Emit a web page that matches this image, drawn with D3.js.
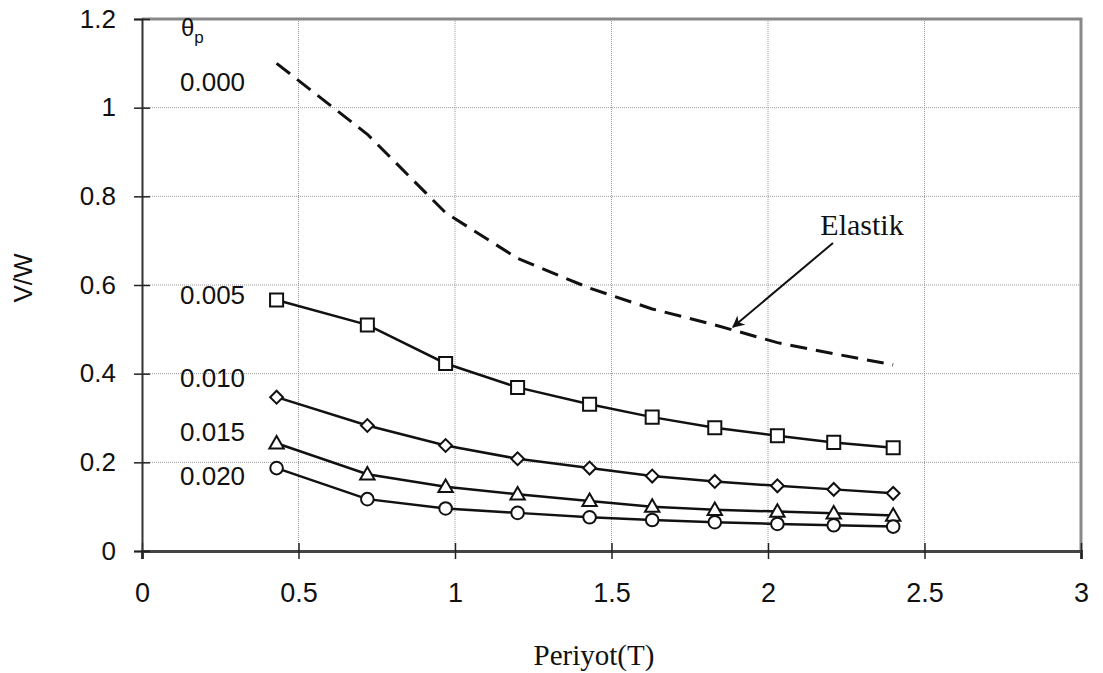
<!DOCTYPE html>
<html>
<head>
<meta charset="utf-8">
<script src="https://cdn.jsdelivr.net/npm/d3@7"></script>
<style>
  body { margin: 0; background: #fff; }
  svg { display: block; }
  .tick text { font-family: "Liberation Sans", Arial, sans-serif; fill: #111; }
</style>
</head>
<body>
<div class="root"></div>
<script>
// periods (T) shared by every curve
var periods = [0.43, 0.72, 0.97, 1.2, 1.43, 1.63, 1.83, 2.03, 2.21, 2.4];

// V/W values
var elastic = [1.10, 0.94, 0.763, 0.66, 0.593, 0.546, 0.51, 0.47, 0.445, 0.42];
var theta005 = [0.566, 0.51, 0.423, 0.369, 0.331, 0.302, 0.278, 0.26, 0.245, 0.233];
var theta010 = [0.347, 0.283, 0.238, 0.208, 0.187, 0.169, 0.157, 0.147, 0.139, 0.13];
var theta015 = [0.243, 0.173, 0.145, 0.128, 0.113, 0.10, 0.093, 0.089, 0.085, 0.08];
var theta020 = [0.187, 0.117, 0.096, 0.086, 0.076, 0.07, 0.065, 0.061, 0.058, 0.055];

var xTicks = [0, 0.5, 1, 1.5, 2, 2.5, 3];
var yTicks = [0, 0.2, 0.4, 0.6, 0.8, 1, 1.2];

var seriesNames = ['0.000', '0.005', '0.010', '0.015', '0.020'];
// where each theta label sits, in V/W units
var labelAt = [1.059, 0.578, 0.391, 0.269, 0.17];

function runChart() {
  var w = 1103, h = 673;
  var left = 142, right = 1081, top = 19, bottom = 551;

  var svg = d3.select('.root').append('svg')
    .attr('width', w)
    .attr('height', h);

  var x = d3.scaleLinear().domain([0, 3]).range([left, right]);
  var y = d3.scaleLinear().domain([0, 1.2]).range([bottom, top]);

  // grid
  var grid = svg.append('g').attr('class', 'grid');
  grid.selectAll('line.v')
    .data(xTicks.slice(1, -1))
    .enter().append('line')
      .attr('x1', function(d) { return x(d); })
      .attr('x2', function(d) { return x(d); })
      .attr('y1', top).attr('y2', bottom)
      .attr('stroke', '#999').attr('stroke-width', 1)
      .attr('stroke-dasharray', '1,1');
  grid.selectAll('line.h')
    .data(yTicks.slice(1, -1))
    .enter().append('line')
      .attr('y1', function(d) { return y(d); })
      .attr('y2', function(d) { return y(d); })
      .attr('x1', left).attr('x2', right)
      .attr('stroke', '#999').attr('stroke-width', 1)
      .attr('stroke-dasharray', '1,1');

  // frame top/right
  svg.append('path')
    .attr('d', 'M' + left + ',' + top + 'H' + right + 'V' + bottom)
    .attr('fill', 'none').attr('stroke', '#888').attr('stroke-width', 3);

  // axes
  var xAxis = svg.append('g')
    .attr('transform', 'translate(0,' + bottom + ')')
    .call(d3.axisBottom(x).tickValues(xTicks).tickSize(8).tickPadding(24)
      .tickFormat(function(d) { return d; }));
  xAxis.select('.domain').attr('stroke', '#444').attr('stroke-width', 3);
  xAxis.selectAll('.tick line').attr('y1', -8).attr('stroke', '#222').attr('stroke-width', 1.5);
  xAxis.selectAll('.tick text').attr('font-size', 27);

  var yAxis = svg.append('g')
    .attr('transform', 'translate(' + left + ',0)')
    .call(d3.axisLeft(y).tickValues(yTicks).tickSize(8).tickPadding(18)
      .tickFormat(function(d) { return d; }));
  yAxis.select('.domain').attr('stroke', '#333').attr('stroke-width', 2);
  yAxis.selectAll('.tick line').attr('x1', 8).attr('stroke', '#222').attr('stroke-width', 1.5);
  yAxis.selectAll('.tick text').attr('font-size', 26);

  // elastic dashed curve
  var line = d3.line()
    .x(function(d) { return x(d[0]); })
    .y(function(d) { return y(d[1]); });

  svg.append('path')
    .datum(d3.zip(periods, elastic))
    .attr('d', line)
    .attr('fill', 'none').attr('stroke', '#111')
    .attr('stroke-width', 3).attr('stroke-dasharray', '17,9');

  var series = [
    {vals: theta005, sym: d3.symbolSquare, size: 170, rot: 0},
    {vals: theta010, sym: d3.symbolSquare, size: 82, rot: 45},
    {vals: theta015, sym: d3.symbolTriangle, size: 90, rot: 0},
    {vals: theta020, sym: d3.symbolCircle, size: 125, rot: 0}
  ];

  series.forEach(function(s) {
    var pts = d3.zip(periods, s.vals);
    svg.append('path')
      .datum(pts)
      .attr('d', line)
      .attr('fill', 'none').attr('stroke', '#111').attr('stroke-width', 2.5);
    svg.append('g').selectAll('path')
      .data(pts)
      .enter().append('path')
        .attr('d', d3.symbol().type(s.sym).size(s.size))
        .attr('transform', function(d) {
          var dy = s.sym === d3.symbolTriangle ? 1 : 0;
          return 'translate(' + x(d[0]) + ',' + (y(d[1]) + dy) + ') rotate(' + s.rot + ')';
        })
        .attr('fill', '#fff').attr('stroke', '#111').attr('stroke-width', 2);
  });

  // theta labels
  var lab = svg.append('g')
    .attr('font-family', '"Liberation Sans", Arial, sans-serif')
    .attr('font-size', 26).attr('fill', '#111');
  lab.selectAll('text')
    .data(seriesNames)
    .enter().append('text')
      .attr('x', 180)
      .attr('y', function(d, i) { return y(labelAt[i]); })
      .attr('dy', '0.36em')
      .text(function(d) { return d; });

  var th = lab.append('text').attr('x', 181).attr('y', 36).attr('font-size', 24);
  th.append('tspan').text('θ');
  th.append('tspan').attr('font-size', 17).attr('dy', 7).text('p');

  // Elastik annotation
  svg.append('defs').append('marker')
    .attr('id', 'arr').attr('viewBox', '0 0 10 10')
    .attr('refX', 9).attr('refY', 5)
    .attr('markerWidth', 6).attr('markerHeight', 6)
    .attr('markerUnits', 'strokeWidth')
    .attr('orient', 'auto')
    .append('path').attr('d', 'M0,0L10,5L0,10L3,5Z').attr('fill', '#111');

  svg.append('line')
    .attr('x1', 833).attr('y1', 243)
    .attr('x2', 733).attr('y2', 327)
    .attr('stroke', '#111').attr('stroke-width', 2)
    .attr('marker-end', 'url(#arr)');

  svg.append('text')
    .attr('x', 862).attr('y', 235)
    .attr('text-anchor', 'middle')
    .attr('font-family', '"Liberation Serif", "Times New Roman", serif')
    .attr('font-size', 30).attr('fill', '#111')
    .text('Elastik');

  // axis titles
  svg.append('text')
    .attr('transform', 'translate(32,278) rotate(-90)')
    .attr('text-anchor', 'middle')
    .attr('font-family', '"Liberation Sans", Arial, sans-serif')
    .attr('font-size', 26).attr('fill', '#111')
    .text('V/W');

  svg.append('text')
    .attr('x', 594).attr('y', 665)
    .attr('text-anchor', 'middle')
    .attr('font-family', '"Liberation Serif", "Times New Roman", serif')
    .attr('font-size', 29).attr('fill', '#111')
    .text('Periyot(T)');
}

window.onload = function() {
  runChart();
};
</script>
</body>
</html>
